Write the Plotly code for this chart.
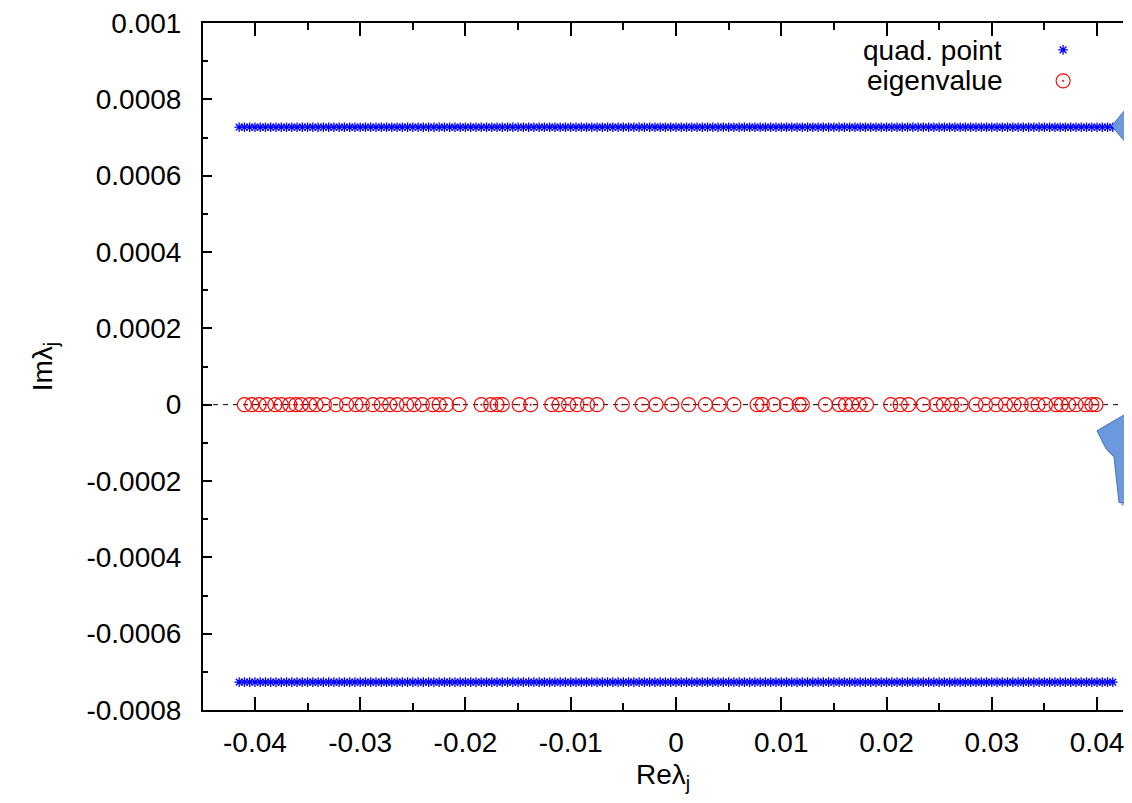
import plotly.graph_objects as go

########################
# DATA
########################

# quadrature points: two horizontal rows at +/- Im
QUAD_RE = [
    -0.0415, -0.0410, -0.0405, -0.0400, -0.0395, -0.0390, -0.0385, -0.0380, -0.0375, -0.0370,
    -0.0365, -0.0360, -0.0355, -0.0350, -0.0345, -0.0340, -0.0335, -0.0330, -0.0325, -0.0320,
    -0.0315, -0.0310, -0.0305, -0.0300, -0.0295, -0.0290, -0.0285, -0.0280, -0.0275, -0.0270,
    -0.0265, -0.0260, -0.0255, -0.0250, -0.0245, -0.0240, -0.0235, -0.0230, -0.0225, -0.0220,
    -0.0215, -0.0210, -0.0205, -0.0200, -0.0195, -0.0190, -0.0185, -0.0180, -0.0175, -0.0170,
    -0.0165, -0.0160, -0.0155, -0.0150, -0.0145, -0.0140, -0.0135, -0.0130, -0.0125, -0.0120,
    -0.0115, -0.0110, -0.0105, -0.0100, -0.0095, -0.0090, -0.0085, -0.0080, -0.0075, -0.0070,
    -0.0065, -0.0060, -0.0055, -0.0050, -0.0045, -0.0040, -0.0035, -0.0030, -0.0025, -0.0020,
    -0.0015, -0.0010, -0.0005, 0.0000, 0.0005, 0.0010, 0.0015, 0.0020, 0.0025, 0.0030,
    0.0035, 0.0040, 0.0045, 0.0050, 0.0055, 0.0060, 0.0065, 0.0070, 0.0075, 0.0080,
    0.0085, 0.0090, 0.0095, 0.0100, 0.0105, 0.0110, 0.0115, 0.0120, 0.0125, 0.0130,
    0.0135, 0.0140, 0.0145, 0.0150, 0.0155, 0.0160, 0.0165, 0.0170, 0.0175, 0.0180,
    0.0185, 0.0190, 0.0195, 0.0200, 0.0205, 0.0210, 0.0215, 0.0220, 0.0225, 0.0230,
    0.0235, 0.0240, 0.0245, 0.0250, 0.0255, 0.0260, 0.0265, 0.0270, 0.0275, 0.0280,
    0.0285, 0.0290, 0.0295, 0.0300, 0.0305, 0.0310, 0.0315, 0.0320, 0.0325, 0.0330,
    0.0335, 0.0340, 0.0345, 0.0350, 0.0355, 0.0360, 0.0365, 0.0370, 0.0375, 0.0380,
    0.0385, 0.0390, 0.0395, 0.0400, 0.0405, 0.0410, 0.0415,
]
QUAD_IM = [0.000727, -0.000727]

# eigenvalues (all real, Im = 0)
EIG_RE = [
    -0.0410, -0.0403, -0.0396, -0.0389, -0.0381, -0.0375, -0.0367, -0.0361, -0.0356, -0.0348,
    -0.0342, -0.0334, -0.0323, -0.0313, -0.0304, -0.0298, -0.0288, -0.0280, -0.0272, -0.0265,
    -0.0256, -0.0249, -0.0241, -0.0231, -0.0225, -0.0218, -0.0206, -0.0185, -0.0176, -0.0170,
    -0.0165, -0.0149, -0.0138, -0.0118, -0.0111, -0.0102, -0.0094, -0.0084, -0.0075, -0.0051,
    -0.0032, -0.0019, -0.0004, 0.0012, 0.0028, 0.0041, 0.0055, 0.0077, 0.0082, 0.0093,
    0.0105, 0.0117, 0.0120, 0.0142, 0.0155, 0.0161, 0.0167, 0.0174, 0.0181, 0.0204,
    0.0213, 0.0221, 0.0235, 0.0247, 0.0254, 0.0262, 0.0271, 0.0285, 0.0294, 0.0304,
    0.0313, 0.0321, 0.0328, 0.0338, 0.0344, 0.0351, 0.0361, 0.0366, 0.0373, 0.0380,
    0.0389, 0.0395, 0.0399,
]

X_TICKS = [-0.04, -0.03, -0.02, -0.01, 0.0, 0.01, 0.02, 0.03, 0.04]
X_TICK_LABELS = ["-0.04", "-0.03", "-0.02", "-0.01", "0", "0.01", "0.02", "0.03", "0.04"]
Y_TICKS = [-0.0008, -0.0006, -0.0004, -0.0002, 0.0, 0.0002, 0.0004, 0.0006, 0.0008, 0.001]
Y_TICK_LABELS = ["-0.0008", "-0.0006", "-0.0004", "-0.0002", "0",
                 "0.0002", "0.0004", "0.0006", "0.0008", "0.001"]

LEGEND_LABELS = ["quad. point", "eigenvalue"]

########################
# LAYOUT CONSTANTS
########################
# the page body adds an 8px margin, so the figure is shifted by that much
BODY = 8
WIN_W, WIN_H = 1132, 803
PLOT_L, PLOT_R, PLOT_T, PLOT_B = 203, WIN_W - BODY, 21, 710      # window pixels
W, H = WIN_W - 2 * BODY, WIN_H - 2 * BODY
ML, MR, MT = PLOT_L - BODY, 0, PLOT_T - BODY
MB = H - (PLOT_B - BODY)
PW, PH = PLOT_R - PLOT_L, PLOT_B - PLOT_T
FONT = "Liberation Sans, Arial, Helvetica, sans-serif"
FS = 28

# x scale: -0.04 at window px 255, 0.04 at 1098
PX_PER_UNIT = (1098 - 255) / 0.08
X_MIN = -0.04 - (255 - PLOT_L) / PX_PER_UNIT
X_MAX = 0.04 + (PLOT_R - 1098) / PX_PER_UNIT

# slide-decoration arrows at the right edge (window pixel outlines)
ARROW_TOP = [(1113, 124), (1132, 101), (1132, 170), (1127, 141), (1120, 133)]
ARROW_BOT = [(1098, 430), (1132, 410), (1132, 502), (1120, 502), (1115, 456), (1107, 448)]


def to_paper(x, y):
    return (x - PLOT_L) / PW, (PLOT_B - y) / PH


def path_from(pts, dx=0, dy=0):
    p = [to_paper(x + dx, y + dy) for x, y in pts]
    return "M %f %f " % p[0] + " ".join("L %f %f" % q for q in p[1:]) + " Z"


fig = go.Figure()

# quadrature points, upper and lower rows
for i, im in enumerate(QUAD_IM):
    fig.add_trace(go.Scatter(
        x=QUAD_RE, y=[im] * len(QUAD_RE), mode="markers",
        name="",
        legend="legend",
        showlegend=(i == 0),
        hovertemplate=LEGEND_LABELS[0] + "<br>%{x}, %{y}<extra></extra>",
        marker=dict(symbol="asterisk-open", size=8, color="rgb(0,0,255)",
                    line=dict(color="rgb(0,0,255)", width=1.3)),
    ))

fig.add_trace(go.Scatter(
    x=EIG_RE, y=[0.0] * len(EIG_RE), mode="markers",
    name="",
    legend="legend2",
    hovertemplate=LEGEND_LABELS[1] + "<br>%{x}, %{y}<extra></extra>",
    marker=dict(symbol="circle-open-dot", size=14, color="rgb(255,0,0)",
                line=dict(color="rgb(255,40,40)", width=1.1)),
))

# dashed zero axis
fig.add_hline(y=0, line=dict(color="black", width=1, dash="5px,5px"), layer="below")

axis_common = dict(
    showgrid=False, zeroline=False, showline=True, linecolor="black", linewidth=2,
    ticks="inside", tickcolor="black", tickwidth=1.5,
    tickfont=dict(family=FONT, size=FS, color="black"),
    tickmode="array", ticklabeloverflow="allow",
)

fig.update_xaxes(
    **axis_common,
    range=[X_MIN, X_MAX], tickvals=X_TICKS, ticktext=X_TICK_LABELS,
    ticklen=13, mirror="ticks", ticklabelstandoff=6,
    minor=dict(tickmode="linear", tick0=0, dtick=0.005, ticks="inside",
               ticklen=7, tickcolor="black", tickwidth=1.5),
    title=dict(text="Reλ<sub>j</sub>", font=dict(family=FONT, size=FS, color="black"),
               standoff=8),
)
fig.update_yaxes(
    **axis_common,
    range=[-0.0008, 0.001], tickvals=Y_TICKS, ticktext=Y_TICK_LABELS,
    ticklen=9, mirror=False, ticklabelstandoff=14,
    minor=dict(tickmode="linear", tick0=0, dtick=0.0001, ticks="inside",
               ticklen=5, tickcolor="black", tickwidth=1.5),
    title=dict(text="Imλ<sub>j</sub>", font=dict(family=FONT, size=FS, color="black"),
               standoff=26),
)

legend_common = dict(xanchor="left", yanchor="middle", bgcolor="rgba(0,0,0,0)",
                     font=dict(family=FONT, size=20), itemwidth=30)
arrow_fill = "rgb(108,152,222)"
arrow_line = "rgb(72,112,178)"
shadow = "rgba(120,120,120,0.55)"

fig.update_layout(
    width=W, height=H,
    margin=dict(l=ML, r=MR, t=MT, b=MB),
    paper_bgcolor="white", plot_bgcolor="white",
    font=dict(family=FONT, size=FS, color="black"),
    legend=dict(**legend_common, x=to_paper(1044, 0)[0], y=to_paper(0, 48)[1]),
    legend2=dict(**legend_common, x=to_paper(1044, 0)[0], y=to_paper(0, 79)[1]),
    annotations=[
        dict(text=LEGEND_LABELS[0], xref="paper", yref="paper",
             x=to_paper(1005, 0)[0], y=to_paper(0, 49)[1], xanchor="right", yanchor="middle",
             showarrow=False, font=dict(family=FONT, size=FS, color="black")),
        dict(text=LEGEND_LABELS[1], xref="paper", yref="paper",
             x=to_paper(1005, 0)[0], y=to_paper(0, 79)[1], xanchor="right", yanchor="middle",
             showarrow=False, font=dict(family=FONT, size=FS, color="black")),
    ],
    shapes=[
        dict(type="path", xref="paper", yref="paper", path=path_from(ARROW_TOP, 2, 3),
             fillcolor=shadow, line=dict(width=0)),
        dict(type="path", xref="paper", yref="paper", path=path_from(ARROW_TOP),
             fillcolor=arrow_fill, line=dict(color=arrow_line, width=1)),
        dict(type="path", xref="paper", yref="paper", path=path_from(ARROW_BOT, 2, 3),
             fillcolor=shadow, line=dict(width=0)),
        dict(type="path", xref="paper", yref="paper", path=path_from(ARROW_BOT),
             fillcolor=arrow_fill, line=dict(color=arrow_line, width=1)),
    ],
)

fig.write_html("out.html")
